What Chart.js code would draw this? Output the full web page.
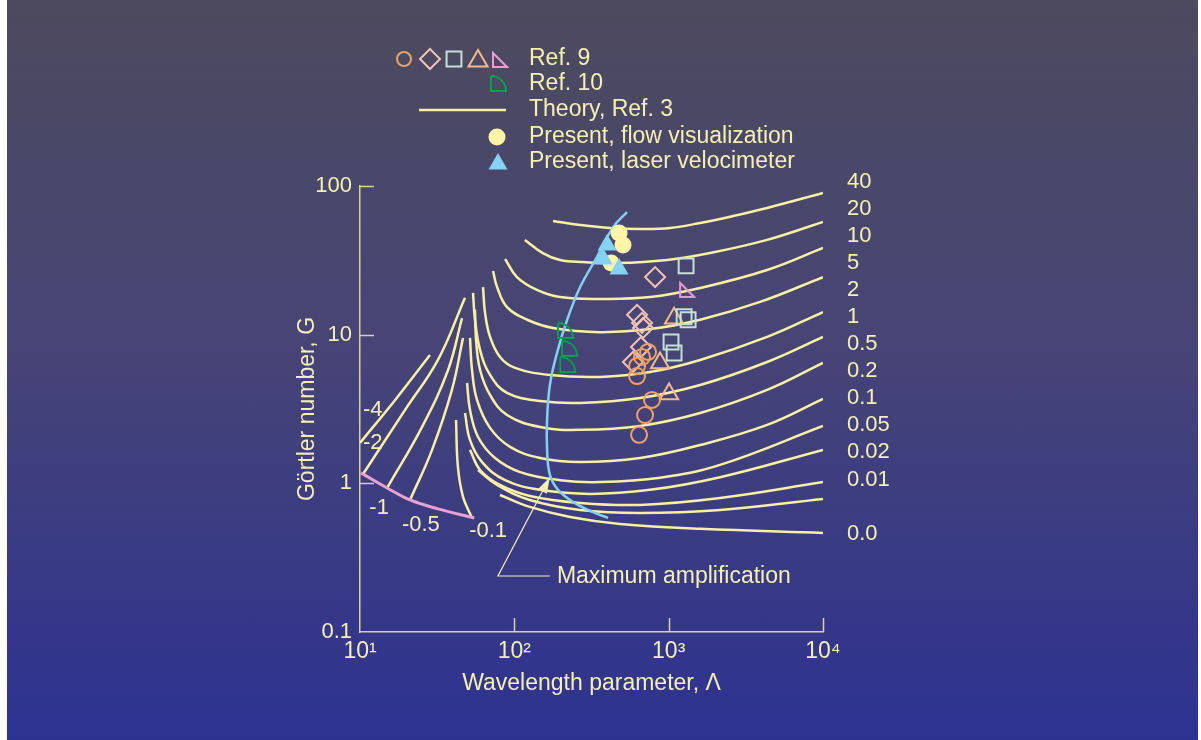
<!DOCTYPE html>
<html>
<head>
<meta charset="utf-8">
<script src="https://cdn.jsdelivr.net/npm/chart.js@4.4.1/dist/chart.umd.min.js"></script>
<style>
  html, body { margin: 0; padding: 0; background: #fff; }
  #wrap { position: relative; width: 1201px; height: 740px; overflow: hidden; }
  #bg { position: absolute; left: 7px; top: 0; width: 1191px; height: 740px;
        background: linear-gradient(#4d4a5e 0%, #474575 45%, #2d3291 100%); }
  canvas { position: absolute; left: 0; top: 0; }
</style>
</head>
<body>
<div id="wrap"><div id="bg"></div><canvas id="gortler" width="1201" height="740"></canvas></div>
<script>
// axes
const xTicks = [10, 100, 1000, 10000];
const xTickLabels = ['10\u00b9', '10\u00b2', '10\u00b3', '10\u2074'];
const yTicks = [0.1, 1, 10, 100];
const yTickLabels = ['0.1', '1', '10', '100'];

// Theory, Ref. 3 -- curves of constant amplification, [wavelength parameter, Görtler number]
const beta40 = [[178, 58.2], [267, 54.7], [417, 52.2], [653, 51.4], [1021, 52.2], [1600, 56.4], [2612, 62.8], [4345, 71.2], [10000, 89.7]];
const beta20 = [[117, 43.4], [153, 35.4], [198, 31.8], [279, 30.8], [463, 30.3], [977, 31.8], [1854, 35.4], [4345, 43.4], [10000, 57.3]];
const beta10 = [[87.1, 32.3], [104, 24.4], [140, 20.0], [198, 17.9], [359, 17.4], [757, 17.9], [1600, 20.6], [4345, 27.2], [10000, 38.3]];
const beta5 = [[72.8, 26.8], [77.3, 20.9], [89.7, 15.3], [121, 12.6], [178, 11.1], [359, 10.4], [757, 10.9], [1600, 12.6], [3908, 16.6], [10000, 24.4]];
const beta2 = [[62.7, 20.9], [64.6, 14.0], [69.6, 9.66], [80.7, 7.08], [101, 5.98], [170, 5.36], [359, 5.20], [757, 5.61], [1600, 6.76], [4345, 9.66], [10000, 14.2]];
const beta1 = [[54.0, 19.1], [55.6, 12.6], [60.0, 7.89], [69.6, 5.36], [89.7, 4.06], [147, 3.58], [267, 3.47], [653, 3.75], [1600, 4.59], [4345, 6.55], [10000, 9.66]];
const beta05 = [[55.6, 14.7], [56.5, 9.20], [60.0, 5.79], [69.6, 3.93], [89.7, 2.88], [147, 2.39], [267, 2.29], [653, 2.43], [1600, 2.97], [4345, 4.25], [10000, 6.46]];
const beta02 = [[51.6, 9.51], [53.2, 5.79], [57.3, 3.64], [69.6, 2.36], [93.8, 1.76], [147, 1.48], [267, 1.39], [653, 1.48], [1600, 1.81], [4345, 2.47], [10000, 3.70]];
const beta01 = [[49.4, 4.73], [51.6, 3.12], [58.2, 2.05], [75.0, 1.48], [109, 1.19], [198, 1.05], [359, 1.02], [879, 1.09], [2153, 1.33], [10000, 2.43]];
const beta005 = [[47.9, 2.97], [51.6, 1.96], [61.8, 1.39], [87.1, 1.05], [147, 0.904], [310, 0.849], [757, 0.904], [2153, 1.10], [10000, 1.68]];
const beta002 = [[51.6, 1.68], [60.0, 1.23], [80.7, 0.975], [126, 0.822], [267, 0.738], [653, 0.716], [2153, 0.798], [10000, 1.02]];
const beta001 = [[58.2, 1.23], [77.3, 0.975], [126, 0.773], [267, 0.662], [653, 0.632], [2153, 0.662], [10000, 0.786]];
const beta0 = [[80.7, 0.835], [126, 0.694], [230, 0.594], [484, 0.533], [1600, 0.494], [10000, 0.464]];
const betaM4 = [[10.0, 1.87], [16.9, 3.64], [28.4, 7.30]];
const betaM2 = [[10.5, 1.16], [19.6, 3.12], [32.0, 6.76], [47.9, 17.7]];
const betaM1 = [[15.0, 0.931], [25.2, 2.39], [37.2, 5.79], [45.8, 12.9]];
const betaM05 = [[21.1, 0.773], [29.3, 1.68], [39.4, 4.25], [46.5, 9.51]];
const betaM01 = [[41.9, 2.67], [43.1, 1.29], [46.5, 0.811], [53.0, 0.59]];
const lowerLimit = [[10.15, 1.175], [15.0, 0.931], [21.1, 0.773], [32.0, 0.673], [55.0, 0.585]];
const maxAmplification = [[537, 66.8], [437, 52.9], [343, 33.3], [267, 20.9], [220, 12.6], [189, 7.53], [170, 4.59], [163, 2.67], [163, 1.68], [170, 1.14], [192, 0.904], [240, 0.750], [310, 0.652], [405, 0.585]];

const betaLabels = ['40', '20', '10', '5', '2', '1', '0.5', '0.2', '0.1', '0.05', '0.02', '0.01', '0.0'];
const betaLabelAt = [106, 70.0, 46.1, 30.3, 20.0, 13.2, 8.66, 5.70, 3.75, 2.47, 1.63, 1.05, 0.457];
const negLabels = ['-4', '-2', '-1', '-0.5', '-0.1'];
const negLabelAt = [[12.1, 3.12], [12.1, 1.87], [13.3, 0.684], [24.8, 0.525], [67.6, 0.479]];

// measurements
const ref9Circle = [[672, 7.08], [735, 7.66], [624, 6.16], [624, 5.27], [780, 3.64], [703, 2.88], [643, 2.12]];
const ref9Diamond = [[817, 24.4], [624, 13.6], [672, 12.0], [682, 11.1], [662, 8.26], [587, 6.55]];
const ref9Square = [[1297, 29.0], [1259, 13.2], [1337, 12.6], [1036, 8.93], [1084, 7.53]];
const ref9Triangle = [[1084, 12.9], [879, 6.46], [1006, 3.99]];
const ref9Wedge = [[1297, 20.0]];
const ref10 = [[213, 10.6], [226, 8.02], [220, 6.25]];
const flowVisualization = [[477, 48.3], [506, 40.1], [424, 30.3]];
const laserVelocimeter = [[399, 40.1], [376, 32.3], [477, 27.7]];

const maxAmpTip = [170, 1.10];
const maxAmpElbow = [78.3, 0.238];

const textColor = '#f6efb2';
const axisColor = '#d8d1a6';
const theoryColor = '#faf0a4';
const FONT = '"Liberation Sans", Arial, sans-serif';

Chart.defaults.font.family = FONT;
Chart.defaults.color = textColor;

function icon(draw, color) {
    const c = document.createElement('canvas');
    c.width = 20;
    c.height = 20;
    const g = c.getContext('2d');
    g.strokeStyle = color;
    g.lineWidth = 2;
    g.beginPath();
    draw(g);
    g.stroke();
    return c;
}
// quarter circle used for Ref. 10, right triangle for one Ref. 9 set
const quarterIcon = icon(g => {
    g.moveTo(3, 2); g.lineTo(3, 17); g.lineTo(18, 17);
    g.arc(3, 17, 15, 0, -Math.PI / 2, true);
}, '#00a04a');
const wedgeIcon = icon(g => {
    g.moveTo(4, 3); g.lineTo(4, 17); g.lineTo(18, 17); g.closePath();
}, '#ec9bd0');

const toXY = pts => pts.map(([x, y]) => ({ x, y }));

function curve(pts, color, width, order) {
    return {
        data: toXY(pts), showLine: true, borderColor: color, borderWidth: width,
        pointRadius: 0, tension: 0.4, fill: false, order: order
    };
}

function marks(pts, style, radius, color, filled, order) {
    return {
        data: toXY(pts), showLine: false, pointStyle: style, pointRadius: radius,
        pointBorderColor: color, pointBackgroundColor: filled ? color : 'rgba(0,0,0,0)',
        pointBorderWidth: filled ? 0 : 2, order: order
    };
}

const datasets = [
    marks(laserVelocimeter, 'triangle', 11, '#84d2f4', true, 1),
    marks(flowVisualization, 'circle', 8.5, '#fff3a6', true, 2),
    marks(ref10, quarterIcon, 8, '#00a04a', false, 2),
    marks(ref9Circle, 'circle', 8, '#f2a064', false, 2),
    marks(ref9Diamond, 'rectRot', 10, '#f2c2b4', false, 2),
    marks(ref9Square, 'rect', 10.5, '#c4e0d4', false, 2),
    marks(ref9Triangle, 'triangle', 10.5, '#f5b98a', false, 2),
    marks(ref9Wedge, wedgeIcon, 8, '#ec9bd0', false, 2),
    curve(maxAmplification, '#86cff2', 2.5, 5),
    curve(lowerLimit, '#eaa2d4', 3, 6)
];
[beta40, beta20, beta10, beta5, beta2, beta1, beta05, beta02, beta01, beta005, beta002, beta001, beta0,
 betaM4, betaM2, betaM1, betaM05, betaM01].forEach(c => datasets.push(curve(c, theoryColor, 2.5, 7)));

function markPath(ctx, style, x, y, r) {
    ctx.beginPath();
    if (style === 'circle') {
        ctx.arc(x, y, r, 0, Math.PI * 2);
    } else if (style === 'rectRot') {
        ctx.moveTo(x - r, y); ctx.lineTo(x, y - r); ctx.lineTo(x + r, y); ctx.lineTo(x, y + r); ctx.closePath();
    } else if (style === 'rect') {
        const s = r * Math.SQRT1_2;
        ctx.rect(x - s, y - s, 2 * s, 2 * s);
    } else if (style === 'triangle') {
        ctx.moveTo(x, y - r); ctx.lineTo(x + r * 0.866, y + r / 2); ctx.lineTo(x - r * 0.866, y + r / 2); ctx.closePath();
    }
}

// legend, curve labels, inward ticks and the "Maximum amplification" pointer
const decorations = {
    id: 'decorations',
    afterDraw(chart) {
        const { ctx, chartArea: area, scales: { x, y } } = chart;
        ctx.save();

        ctx.strokeStyle = axisColor;
        ctx.lineWidth = 1.5;
        ctx.beginPath();
        [1, 10, 100].forEach(v => {
            const py = Math.round(y.getPixelForValue(v)) + 0.5;
            ctx.moveTo(area.left, py); ctx.lineTo(area.left + 14, py);
        });
        [100, 1000, 10000].forEach(v => {
            const px = Math.round(x.getPixelForValue(v)) + 0.5;
            ctx.moveTo(px, area.bottom); ctx.lineTo(px, area.bottom - 14);
        });
        ctx.stroke();

        ctx.font = '22px ' + FONT;
        ctx.fillStyle = textColor;
        ctx.textBaseline = 'middle';
        ctx.textAlign = 'left';

        betaLabels.forEach((t, i) => ctx.fillText(t, area.right + 24, y.getPixelForValue(betaLabelAt[i])));
        ctx.textAlign = 'center';
        negLabels.forEach((t, i) => ctx.fillText(t, x.getPixelForValue(negLabelAt[i][0]), y.getPixelForValue(negLabelAt[i][1])));

        // pointer
        const tx = x.getPixelForValue(maxAmpTip[0]), ty = y.getPixelForValue(maxAmpTip[1]);
        const ex = x.getPixelForValue(maxAmpElbow[0]), ey = y.getPixelForValue(maxAmpElbow[1]);
        const ang = Math.atan2(ty - ey, tx - ex);
        ctx.strokeStyle = textColor;
        ctx.lineWidth = 1.2;
        ctx.beginPath();
        ctx.moveTo(tx - 12 * Math.cos(ang), ty - 12 * Math.sin(ang));
        ctx.lineTo(ex, ey);
        ctx.lineTo(tx, ey);
        ctx.stroke();
        ctx.beginPath();
        ctx.moveTo(tx, ty);
        ctx.lineTo(tx - 16 * Math.cos(ang) + 5 * Math.sin(ang), ty - 16 * Math.sin(ang) - 5 * Math.cos(ang));
        ctx.lineTo(tx - 16 * Math.cos(ang) - 5 * Math.sin(ang), ty - 16 * Math.sin(ang) + 5 * Math.cos(ang));
        ctx.closePath();
        ctx.fill();
        ctx.font = '23px ' + FONT;
        ctx.textAlign = 'left';
        ctx.fillText('Maximum amplification', tx + 7, ey + 1);

        // legend
        const lx = 529;
        const rows = [59, 84, 110, 137, 162];
        ctx.lineWidth = 2;
        [['circle', 404, 7, '#f2a064'], ['rectRot', 430, 10, '#f2c2b4'], ['rect', 454, 10.5, '#c4e0d4'],
         ['triangle', 478, 11, '#f5b98a']].forEach(([s, px, r, c]) => {
            ctx.strokeStyle = c;
            markPath(ctx, s, px, rows[0] + (s === 'triangle' ? 2 : 0), r);
            ctx.stroke();
        });
        ctx.drawImage(wedgeIcon, 499 - 10, rows[0] - 9);
        ctx.drawImage(quarterIcon, 498 - 10, rows[1] - 10);
        ctx.strokeStyle = theoryColor;
        ctx.lineWidth = 2.5;
        ctx.beginPath(); ctx.moveTo(419, rows[2]); ctx.lineTo(506, rows[2]); ctx.stroke();
        ctx.fillStyle = '#fff3a6';
        markPath(ctx, 'circle', 497, rows[3], 8.5); ctx.fill();
        ctx.fillStyle = '#84d2f4';
        markPath(ctx, 'triangle', 498, rows[4] + 2, 11); ctx.fill();

        ctx.fillStyle = textColor;
        ['Ref. 9', 'Ref. 10', 'Theory, Ref. 3', 'Present, flow visualization', 'Present, laser velocimeter']
            .forEach((t, i) => ctx.fillText(t, lx, rows[i]));
        ctx.restore();
    }
};

new Chart(document.getElementById('gortler'), {
    type: 'scatter',
    data: { datasets },
    options: {
        responsive: false,
        animation: false,
        layout: { padding: { left: 294, right: 378, top: 186, bottom: 43 } },
        plugins: { legend: { display: false }, tooltip: { enabled: false } },
        scales: {
            x: {
                type: 'logarithmic', min: 10, max: 10000,
                afterBuildTicks: s => { s.ticks = xTicks.map(v => ({ value: v })); },
                afterFit: s => { s.height = 65; },
                grid: { display: false, drawTicks: false },
                border: { display: true, color: axisColor, width: 1.5 },
                ticks: { autoSkip: false, maxRotation: 0, padding: 6, font: { size: 23 }, color: textColor,
                         callback: (v, i) => xTickLabels[i] },
                title: { display: true, text: 'Wavelength parameter, \u039b', font: { size: 23 }, color: textColor, padding: 0 }
            },
            y: {
                type: 'logarithmic', min: 0.1, max: 100,
                afterBuildTicks: s => { s.ticks = yTicks.map(v => ({ value: v })); },
                afterFit: s => { s.width = 66; },
                grid: { display: false, drawTicks: false },
                border: { display: true, color: axisColor, width: 1.5 },
                ticks: { autoSkip: false, padding: 8, font: { size: 22 }, color: textColor,
                         callback: (v, i) => yTickLabels[i] },
                title: { display: true, text: 'G\u00f6rtler number, G', font: { size: 23 }, color: textColor, padding: 0 }
            }
        }
    },
    plugins: [decorations]
});
</script>
</body>
</html>
